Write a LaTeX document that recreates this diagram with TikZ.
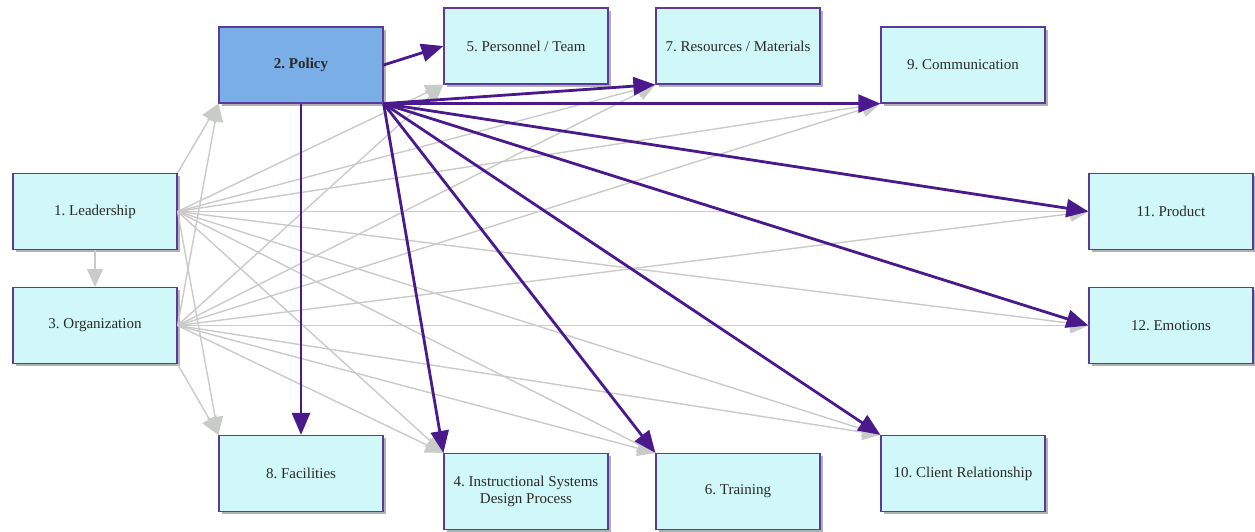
\documentclass[tikz,border=0pt]{standalone}
\usepackage{fontspec}
\setmainfont{Liberation Serif}
\frenchspacing
\usetikzlibrary{arrows.meta,shadows}
\definecolor{boxfill}{HTML}{D0F8F8}
\definecolor{boxline}{HTML}{5B3A9E}
\definecolor{policyfill}{HTML}{7AAEE6}
\definecolor{mainlink}{HTML}{4A1A8C}
\definecolor{sidelink}{HTML}{C8CBC8}
\definecolor{labeltext}{HTML}{2A2A2A}
\tikzset{
  topic/.style={draw=boxline, line width=1.2pt, fill=boxfill,
    minimum width=164pt, minimum height=76pt, inner sep=2pt,
    font=\fontsize{15}{17}\selectfont, text=labeltext, align=center,
    drop shadow={shadow xshift=2.5pt, shadow yshift=-2.5pt, opacity=0.3, fill=black}},
  keytopic/.style={topic, fill=policyfill, font=\fontsize{15}{17}\selectfont\bfseries},
  sidearrow/.style={draw=sidelink, line width=1.4pt,
    -{Triangle[length=18pt,width=16pt]}, fill=sidelink},
  mainarrow/.style={draw=mainlink, line width=2.8pt,
    -{Triangle[length=22pt,width=18pt]}, fill=mainlink}
}
\begin{document}
\begin{tikzpicture}[x=1pt,y=-1pt]
\useasboundingbox (0,0) rectangle (1255,531);

% topic boxes
\node[keytopic] (pol)    at (301,65)    {2. Policy};
\node[topic]    (pers)   at (526,46)    {5. Personnel / Team};
\node[topic]    (res)    at (738,46)    {7. Resources / Materials};
\node[topic]    (comm)   at (963,65)    {9. Communication};
\node[topic]    (lead)   at (95,211.5)  {1. Leadership};
\node[topic]    (org)    at (95,325.5)  {3. Organization};
\node[topic]    (prod)   at (1171,211.5){11. Product};
\node[topic]    (emo)    at (1171,325.5){12. Emotions};
\node[topic]    (fac)    at (301,473.5) {8. Facilities};
\node[topic]    (isd)    at (526,491.5) {4. Instructional Systems\\Design Process};
\node[topic]    (train)  at (738,491.5) {6. Training};
\node[topic]    (client) at (963,473.5) {10. Client Relationship};

% secondary influences from leadership and organization
\draw[sidearrow] (lead.south) -- (org.north);
\draw[sidearrow] (lead.north east) -- (pol.south west);
\draw[sidearrow] (org.east) -- (pol.south west);
\draw[sidearrow] (lead.east) -- (fac.north west);
\draw[sidearrow] (org.south east) -- (fac.north west);
\foreach \src in {lead,org}{
  \foreach \dst in {pers,res,comm}
    \draw[sidearrow] (\src.east) -- (\dst.south west);
  \foreach \dst in {prod,emo}
    \draw[sidearrow] (\src.east) -- (\dst.west);
  \foreach \dst in {isd,train,client}
    \draw[sidearrow] (\src.east) -- (\dst.north west);
}

% policy drives every other area
\draw[mainarrow] (pol.east) -- (pers.west);
\draw[mainarrow] (pol.south) -- (fac.north);
\foreach \dst in {res,comm}
  \draw[mainarrow] (pol.south east) -- (\dst.south west);
\foreach \dst in {prod,emo}
  \draw[mainarrow] (pol.south east) -- (\dst.west);
\foreach \dst in {isd,train,client}
  \draw[mainarrow] (pol.south east) -- (\dst.north west);
\end{tikzpicture}
\end{document}
